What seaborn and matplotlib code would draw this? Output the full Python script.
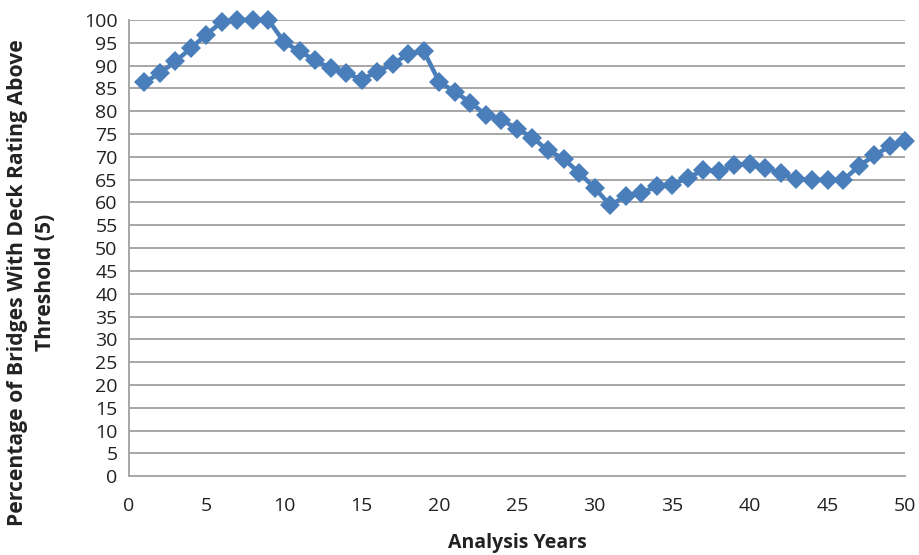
import matplotlib
matplotlib.use("Agg")
import matplotlib.pyplot as plt
import seaborn as sns
import pandas as pd

years = list(range(1, 51))
pct_above = [86.3, 88.3, 90.9, 93.8, 96.8, 99.6, 100, 100, 100, 95.2,
             93.1, 91.2, 89.4, 88.4, 86.9, 88.7, 90.3, 92.6, 93.2, 86.4,
             84.3, 81.9, 79.2, 78.1, 76.2, 74.2, 71.4, 69.6, 66.5, 63.2,
             59.4, 61.4, 62.1, 63.5, 63.9, 65.4, 67.1, 66.8, 68.2, 68.5,
             67.6, 66.4, 65.1, 64.9, 65.0, 64.9, 67.9, 70.3, 72.3, 73.5]

x_ticks = list(range(0, 51, 5))
y_ticks = list(range(0, 101, 5))

df = pd.DataFrame({"year": years, "pct": pct_above})

sns.set_style("white")
plt.rcParams["font.family"] = ["Open Sans", "DejaVu Sans"]

fig = plt.figure(figsize=(9.19, 5.55), dpi=100)
ax = fig.add_axes([0.140, 0.142, 0.845, 0.822])

grid_c = "#a6a6a6"
for v in y_ticks[1:]:
    ax.axhline(v, color=grid_c, lw=1.4, zorder=0)

sns.lineplot(data=df, x="year", y="pct", ax=ax, color="#4a7ebb",
             lw=3.2, marker="D", markersize=10.5, markeredgewidth=0,
             zorder=3, clip_on=False)

ax.set_xlim(0, 50)
ax.set_ylim(0, 100)
ax.set_xticks(x_ticks)
ax.set_yticks(y_ticks)
ax.tick_params(axis="both", labelsize=14, colors="#222222",
               length=5, width=1.2, direction="out")
ax.tick_params(axis="x", colors=grid_c, labelcolor="#222222", pad=10)
ax.tick_params(axis="y", colors=grid_c, labelcolor="#222222", pad=3)

for side in ["top", "right"]:
    ax.spines[side].set_visible(False)
for side in ["left", "bottom"]:
    ax.spines[side].set_color(grid_c)
    ax.spines[side].set_linewidth(1.4)

ax.set_xlabel("Analysis Years", fontsize=14, fontweight="bold",
              color="#222222")
ax.xaxis.set_label_coords(0.501, -0.125)
ax.set_ylabel("Percentage of Bridges With Deck Rating Above\nThreshold (5)",
              fontsize=15.2, fontweight="bold", color="#222222",
              linespacing=1.45)
ax.yaxis.set_label_coords(-0.093, 0.425)

fig.savefig("out.png", dpi=100, facecolor="white")
